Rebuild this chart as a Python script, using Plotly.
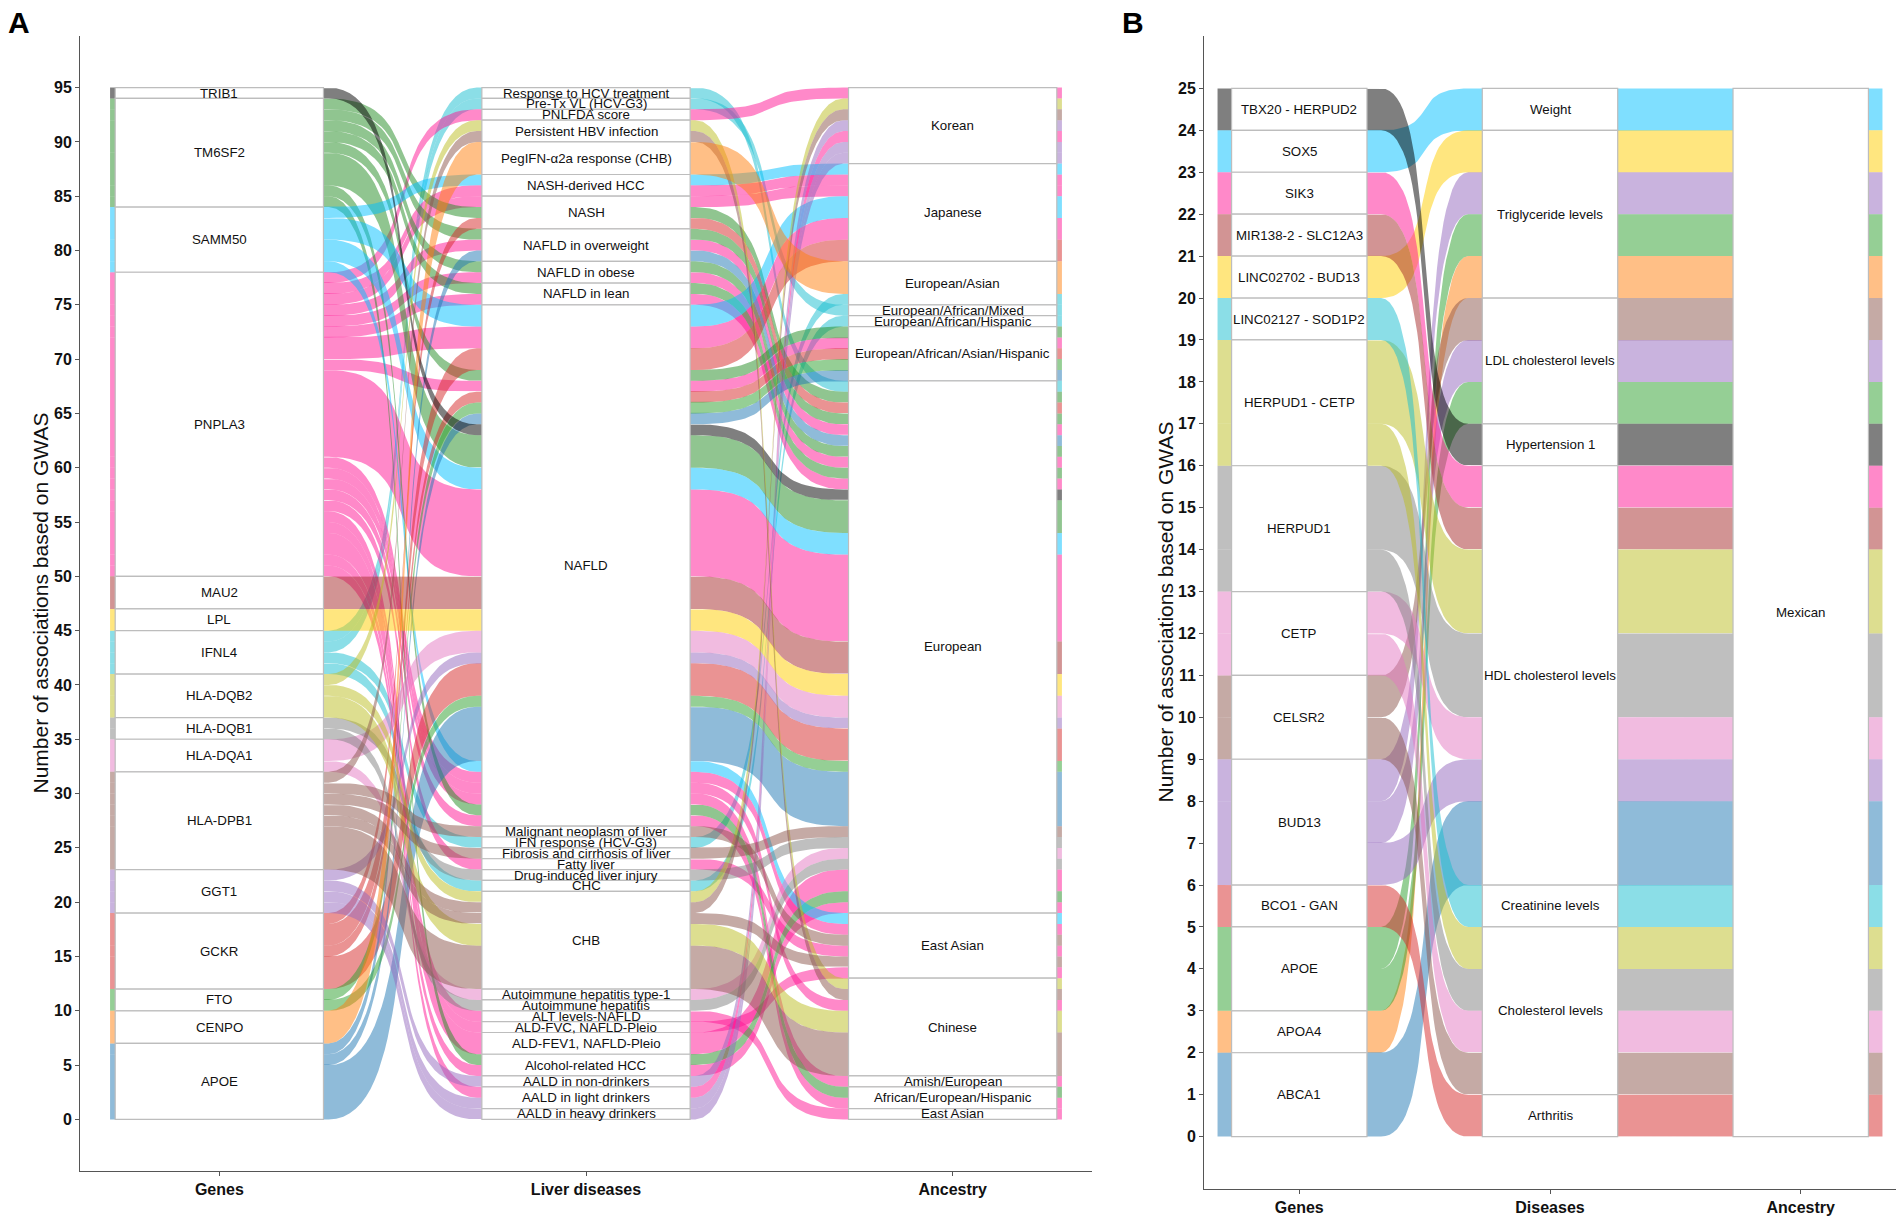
import numpy as np
import plotly.graph_objects as go

# ---------------- panel A : liver diseases ----------------
# strata, listed top -> bottom
genes_a = ["TRIB1", "TM6SF2", "SAMM50", "PNPLA3", "MAU2", "LPL", "IFNL4", "HLA-DQB2",
           "HLA-DQB1", "HLA-DQA1", "HLA-DPB1", "GGT1", "GCKR", "FTO", "CENPO", "APOE"]
gene_colors_a = ["#000000", "#228B22", "#00BFFF", "#FF1493", "#A52A2A", "#FFCD00", "#17BECF", "#BCBD22",
                 "#7F7F7F", "#E377C2", "#8C564B", "#9467BD", "#D62728", "#2CA02C", "#FF7F0E", "#1F77B4"]
diseases_a = ["Response to HCV treatment", "Pre-Tx VL (HCV-G3)", "PNLFDA score", "Persistent HBV infection",
              "PegIFN-α2a response (CHB)", "NASH-derived HCC", "NASH", "NAFLD in overweight",
              "NAFLD in obese", "NAFLD in lean", "NAFLD", "Malignant neoplasm of liver",
              "IFN response (HCV-G3)", "Fibrosis and cirrhosis of liver", "Fatty liver",
              "Drug-induced liver injury", "CHC", "CHB", "Autoimmune hepatitis type-1",
              "Autoimmune hepatitis", "ALT levels-NAFLD", "ALD-FVC, NAFLD-Pleio", "ALD-FEV1, NAFLD-Pleio",
              "Alcohol-related HCC", "AALD in non-drinkers", "AALD in light drinkers", "AALD in heavy drinkers"]
# the second "East Asian " stratum is a separate level (trailing space)
ancestry_a = ["Korean", "Japanese", "European/Asian", "European/African/Mixed", "European/African/Hispanic",
              "European/African/Asian/Hispanic", "European", "East Asian", "Chinese", "Amish/European",
              "African/European/Hispanic", "East Asian "]

# (gene, disease, ancestry, number of associations)
assoc_a = [
    ("IFNL4", "Response to HCV treatment", "European", 1),
    ("IFNL4", "Pre-Tx VL (HCV-G3)", "European/African/Mixed", 1),
    ("IFNL4", "IFN response (HCV-G3)", "European/Asian", 1),
    ("IFNL4", "CHC", "European/African/Hispanic", 1),
    ("PNPLA3", "PNLFDA score", "Korean", 1),
    ("PNPLA3", "NASH-derived HCC", "Japanese", 1),
    ("PNPLA3", "NASH", "Japanese", 1),
    ("PNPLA3", "NAFLD in overweight", "European", 1),
    ("PNPLA3", "NAFLD in obese", "European", 1),
    ("PNPLA3", "NAFLD in lean", "European", 1),
    ("PNPLA3", "NAFLD", "Japanese", 2),
    ("PNPLA3", "NAFLD", "European/African/Asian/Hispanic", 1),
    ("PNPLA3", "NAFLD", "European", 8),
    ("PNPLA3", "NAFLD", "East Asian", 1),
    ("PNPLA3", "NAFLD", "Chinese", 1),
    ("PNPLA3", "NAFLD", "Amish/European", 1),
    ("PNPLA3", "NAFLD", "African/European/Hispanic", 1),
    ("PNPLA3", "Fatty liver", "East Asian", 1),
    ("PNPLA3", "ALT levels-NAFLD", "East Asian ", 1),
    ("PNPLA3", "ALD-FVC, NAFLD-Pleio", "East Asian", 1),
    ("PNPLA3", "ALD-FEV1, NAFLD-Pleio", "European", 2),
    ("PNPLA3", "Alcohol-related HCC", "European", 1),
    ("PNPLA3", "AALD in light drinkers", "Korean", 1),
    ("TM6SF2", "NASH", "European", 1),
    ("TM6SF2", "NAFLD in overweight", "European", 1),
    ("TM6SF2", "NAFLD in obese", "European", 1),
    ("TM6SF2", "NAFLD in lean", "European", 1),
    ("TM6SF2", "NAFLD", "European/African/Asian/Hispanic", 1),
    ("TM6SF2", "NAFLD", "European", 3),
    ("TM6SF2", "NAFLD", "African/European/Hispanic", 1),
    ("TM6SF2", "Alcohol-related HCC", "European", 1),
    ("SAMM50", "NASH-derived HCC", "Japanese", 1),
    ("SAMM50", "NAFLD", "Japanese", 2),
    ("SAMM50", "NAFLD", "European", 2),
    ("SAMM50", "NAFLD", "East Asian", 1),
    ("GCKR", "NASH", "European", 1),
    ("GCKR", "NAFLD", "Japanese", 2),
    ("GCKR", "NAFLD", "European/African/Asian/Hispanic", 1),
    ("GCKR", "NAFLD", "European", 3),
    ("APOE", "NAFLD in overweight", "European", 1),
    ("APOE", "NAFLD", "European/African/Asian/Hispanic", 1),
    ("APOE", "NAFLD", "European", 5),
    ("FTO", "NAFLD", "European/African/Asian/Hispanic", 1),
    ("FTO", "NAFLD", "European", 1),
    ("TRIB1", "NAFLD", "European", 1),
    ("MAU2", "NAFLD", "European", 3),
    ("LPL", "NAFLD", "European", 2),
    ("GGT1", "NAFLD", "European", 1),
    ("GGT1", "AALD in non-drinkers", "Korean", 1),
    ("GGT1", "AALD in light drinkers", "Korean", 1),
    ("GGT1", "AALD in heavy drinkers", "Korean", 1),
    ("HLA-DQA1", "NAFLD", "European", 2),
    ("HLA-DQA1", "Autoimmune hepatitis type-1", "European", 1),
    ("HLA-DQB1", "Drug-induced liver injury", "European", 1),
    ("HLA-DQB1", "Autoimmune hepatitis", "European", 1),
    ("HLA-DQB2", "Persistent HBV infection", "Chinese", 1),
    ("HLA-DQB2", "CHB", "Korean", 1),
    ("HLA-DQB2", "CHB", "Chinese", 2),
    ("HLA-DPB1", "Persistent HBV infection", "Chinese", 1),
    ("HLA-DPB1", "CHB", "Korean", 1),
    ("HLA-DPB1", "CHB", "Chinese", 4),
    ("HLA-DPB1", "CHB", "East Asian", 1),
    ("HLA-DPB1", "Malignant neoplasm of liver", "East Asian", 1),
    ("HLA-DPB1", "Fibrosis and cirrhosis of liver", "European", 1),
    ("CENPO", "PegIFN-α2a response (CHB)", "European/Asian", 3),
]
axis_names_a = ["Genes", "Liver diseases", "Ancestry"]
yticks_a = list(range(0, 96, 5))

# ---------------- panel B : Mexican cohort ----------------
genes_b = ["TBX20 - HERPUD2", "SOX5", "SIK3", "MIR138-2 - SLC12A3", "LINC02702 - BUD13",
           "LINC02127 - SOD1P2", "HERPUD1 - CETP", "HERPUD1", "CETP", "CELSR2", "BUD13",
           "BCO1 - GAN", "APOE", "APOA4", "ABCA1"]
gene_colors_b = ["#000000", "#00BFFF", "#FF1493", "#A52A2A", "#FFCD00", "#17BECF", "#BCBD22", "#7F7F7F",
                 "#E377C2", "#8C564B", "#9467BD", "#D62728", "#2CA02C", "#FF7F0E", "#1F77B4"]
diseases_b = ["Weight", "Triglyceride levels", "LDL cholesterol levels", "Hypertension 1",
              "HDL cholesterol levels", "Creatinine levels", "Cholesterol levels", "Arthritis"]
ancestry_b = ["Mexican"]
assoc_b = [
    ("SOX5", "Weight", "Mexican", 1),
    ("LINC02702 - BUD13", "Triglyceride levels", "Mexican", 1),
    ("BUD13", "Triglyceride levels", "Mexican", 1),
    ("APOE", "Triglyceride levels", "Mexican", 1),
    ("APOA4", "Triglyceride levels", "Mexican", 1),
    ("CELSR2", "LDL cholesterol levels", "Mexican", 1),
    ("BUD13", "LDL cholesterol levels", "Mexican", 1),
    ("APOE", "LDL cholesterol levels", "Mexican", 1),
    ("TBX20 - HERPUD2", "Hypertension 1", "Mexican", 1),
    ("SIK3", "HDL cholesterol levels", "Mexican", 1),
    ("MIR138-2 - SLC12A3", "HDL cholesterol levels", "Mexican", 1),
    ("HERPUD1 - CETP", "HDL cholesterol levels", "Mexican", 2),
    ("HERPUD1", "HDL cholesterol levels", "Mexican", 2),
    ("CETP", "HDL cholesterol levels", "Mexican", 1),
    ("BUD13", "HDL cholesterol levels", "Mexican", 1),
    ("ABCA1", "HDL cholesterol levels", "Mexican", 2),
    ("LINC02127 - SOD1P2", "Creatinine levels", "Mexican", 1),
    ("HERPUD1 - CETP", "Cholesterol levels", "Mexican", 1),
    ("HERPUD1", "Cholesterol levels", "Mexican", 1),
    ("CETP", "Cholesterol levels", "Mexican", 1),
    ("CELSR2", "Cholesterol levels", "Mexican", 1),
    ("BCO1 - GAN", "Arthritis", "Mexican", 1),
]
axis_names_b = ["Genes", "Diseases", "Ancestry"]
yticks_b = list(range(0, 26))

W, H = 1902, 1217
FONT = "Liberation Sans, Arial, Helvetica, sans-serif"
GUIDE = {0: (1, 2), 1: (2, 0), 2: (1, 0)}   # lode ordering inside a stratum


def rgba(hex_color, a=0.5):
    h = hex_color.lstrip("#")
    return "rgba(%d,%d,%d,%s)" % (int(h[0:2], 16), int(h[2:4], 16), int(h[4:6], 16), a)


def curve(c=0.7, n=40):
    u = np.linspace(0, 1, n)
    bx = 3 * (1 - u) ** 2 * u * c + 3 * (1 - u) * u ** 2 * (1 - c) + u ** 3
    by = 3 * (1 - u) * u ** 2 + u ** 3
    return bx[1:-1], by[1:-1]


def stack(rows, levels):
    total = sum(r[3] for r in rows)
    ranks = [{name: i for i, name in enumerate(lv)} for lv in levels]
    boxes = []
    lodes = [[None] * 3 for _ in rows]
    for k in range(3):
        top = total
        for name in levels[k]:
            idx = [i for i, r in enumerate(rows) if r[k] == name]
            size = sum(rows[i][3] for i in idx)
            boxes.append((k, name, top - size, top))
            idx.sort(key=lambda i: tuple(ranks[j][rows[i][j]] for j in GUIDE[k]))
            cur = top
            for i in idx:
                lodes[i][k] = (cur - rows[i][3], cur)
                cur -= rows[i][3]
            top -= size
    return lodes, boxes


def draw_panel(fig, xa, ya, levels, colors, rows, wa, ws):
    cmap = dict(zip(levels[0], colors))
    lodes, boxes = stack(rows, levels)
    bx, by = curve()
    for r, ld in zip(rows, lodes):
        tx, ty, lx, ly = [], [], [], []
        for k in range(3):
            xk = k + 1
            lo, hi = ld[k]
            tx += [xk - wa, xk + wa]
            ty += [hi, hi]
            lx += [xk - wa, xk + wa]
            ly += [lo, lo]
            if k < 2:
                x0, x1 = xk + wa, xk + 1 - wa
                nlo, nhi = ld[k + 1]
                tx += list(x0 + (x1 - x0) * bx)
                ty += list(hi + (nhi - hi) * by)
                lx += list(x0 + (x1 - x0) * bx)
                ly += list(lo + (nlo - lo) * by)
        fig.add_trace(go.Scatter(
            x=tx + lx[::-1], y=ty + ly[::-1], fill="toself", mode="lines",
            line=dict(width=0), fillcolor=rgba(cmap[r[0]]), hoverinfo="skip",
            showlegend=False, xaxis=xa, yaxis=ya))
    for k, name, lo, hi in boxes:
        fig.add_shape(type="rect", xref=xa, yref=ya, x0=k + 1 - ws, x1=k + 1 + ws, y0=lo, y1=hi,
                      fillcolor="white", line=dict(color="#BDBDBD", width=1.2), layer="above")
        fig.add_annotation(x=k + 1, y=(lo + hi) / 2, xref=xa, yref=ya, text=name.strip(),
                           xanchor="center", yanchor="middle", showarrow=False,
                           font=dict(family=FONT, size=13.3, color="#111"))


fig = go.Figure()
draw_panel(fig, "x", "y", [genes_a, diseases_a, ancestry_a], gene_colors_a, assoc_a, 0.298, 0.284)
draw_panel(fig, "x2", "y2", [genes_b, diseases_b, ancestry_b], gene_colors_b, assoc_b, 0.326, 0.27)

ax_common = dict(showgrid=False, zeroline=False, showline=True, linecolor="#555", linewidth=1,
                 ticks="outside", ticklen=4, tickwidth=1, tickcolor="#555", fixedrange=True,
                 tickfont=dict(family=FONT, size=16, color="#111", weight="bold"))

fig.update_layout(
    width=W, height=H, margin=dict(l=0, r=0, t=0, b=0),
    paper_bgcolor="white", plot_bgcolor="white",
    xaxis=dict(domain=[80 / W, 1092 / W], range=[0.62, 3.38], anchor="y",
               tickvals=[1, 2, 3], ticktext=axis_names_a, **ax_common),
    yaxis=dict(domain=[1 - 1171 / H, 1 - 36 / H], range=[-4.75, 99.75], anchor="x",
               tickvals=yticks_a, **ax_common),
    xaxis2=dict(domain=[1204 / W, 1896 / W], range=[0.62, 3.38], anchor="y2",
                tickvals=[1, 2, 3], ticktext=axis_names_b, **ax_common),
    yaxis2=dict(domain=[1 - 1189 / H, 1 - 36 / H], range=[-1.25, 26.25], anchor="x2",
                tickvals=yticks_b, **ax_common),
)

title = "Number of associations based on GWAS"
for tx, ty in [(40, 603.5), (1165, 612.5)]:
    fig.add_annotation(x=tx / W, y=1 - ty / H, xref="paper", yref="paper", text=title, textangle=-90,
                       xanchor="center", yanchor="middle", showarrow=False,
                       font=dict(family=FONT, size=21, color="#111"))
for letter, px in [("A", 6), ("B", 1120)]:
    fig.add_annotation(x=px / W, y=1 - 23 / H, xref="paper", yref="paper", text=letter,
                       xanchor="left", yanchor="middle", showarrow=False,
                       font=dict(family=FONT, size=30, color="#000", weight="bold"))

fig.write_html("out.html", config={"displayModeBar": False},
               post_script="document.body.style.margin='0px';")
